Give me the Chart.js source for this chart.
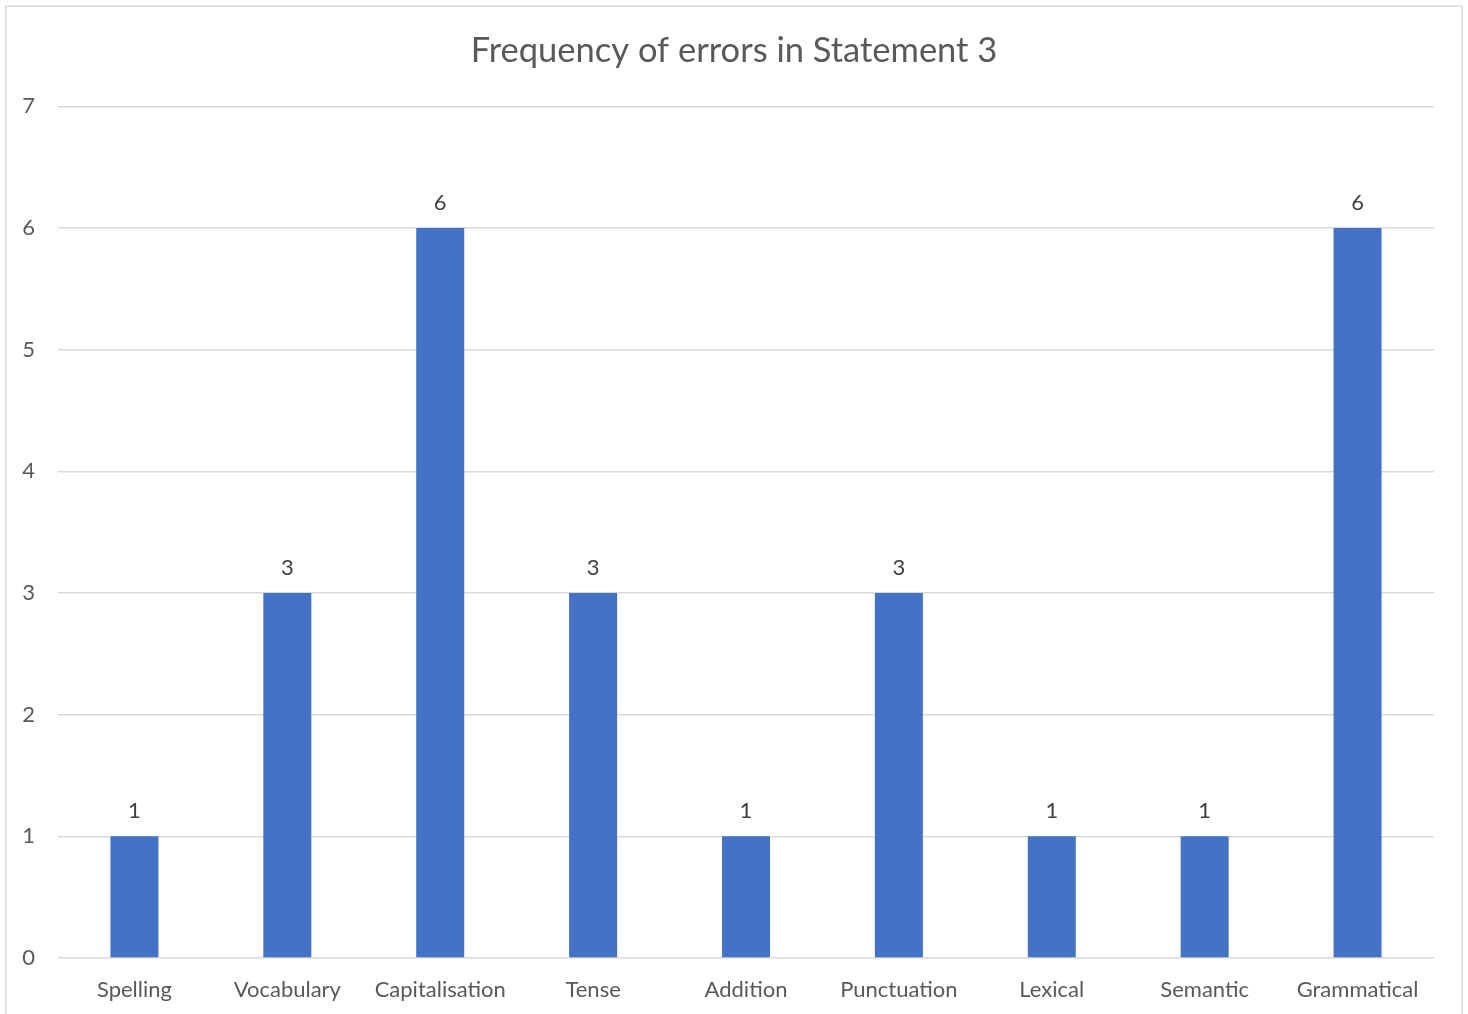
<!DOCTYPE html>
<html>
<head>
<meta charset="utf-8">
<script src="https://cdn.jsdelivr.net/npm/chart.js@4.4.1/dist/chart.umd.min.js"></script>
<style>
  html, body { margin: 0; padding: 0; background: #ffffff; }
  #wrap { width: 1468px; height: 1014px; }
</style>
</head>
<body>
<div id="wrap"><canvas id="chart" width="1468" height="1014"></canvas></div>
<script>
// Error categories and their counts
const categories = ['Spelling', 'Vocabulary', 'Capitalisation', 'Tense', 'Addition', 'Punctuation', 'Lexical', 'Semantic', 'Grammatical'];
const errorCounts = [1, 3, 6, 3, 1, 3, 1, 1, 6];
const yTicks = [0, 1, 2, 3, 4, 5, 6, 7];

const FONT = 'Lato, "Open Sans", sans-serif';

// Light frame around the whole chart
const framePlugin = {
  id: 'frame',
  beforeDraw(chart) {
    const ctx = chart.ctx;
    ctx.save();
    ctx.fillStyle = '#ffffff';
    ctx.fillRect(0, 0, chart.width, chart.height);
    ctx.strokeStyle = '#d9d9d9';
    ctx.lineWidth = 1.5;
    ctx.strokeRect(5.75, 6.25, 1456.5, 1030);
    ctx.restore();
  }
};

// Value labels above each bar
const valueLabels = {
  id: 'valueLabels',
  afterDatasetsDraw(chart) {
    const ctx = chart.ctx;
    const meta = chart.getDatasetMeta(0);
    ctx.save();
    ctx.font = '22px ' + FONT;
    ctx.fillStyle = '#404040';
    ctx.textAlign = 'center';
    ctx.textBaseline = 'middle';
    meta.data.forEach((bar, i) => {
      ctx.fillText(String(chart.data.datasets[0].data[i]), bar.x, bar.y - 25);
    });
    ctx.restore();
  }
};

new Chart(document.getElementById('chart'), {
  type: 'bar',
  data: {
    labels: categories,
    datasets: [{
      data: errorCounts,
      backgroundColor: '#4472c4',
      borderWidth: 0,
      barPercentage: 0.314,
      categoryPercentage: 1.0
    }]
  },
  options: {
    responsive: false,
    animation: false,
    devicePixelRatio: 1,
    layout: { padding: { left: 0, right: 0, top: 0, bottom: 0 } },
    plugins: {
      legend: { display: false },
      tooltip: { enabled: false },
      title: {
        display: true,
        text: 'Frequency of errors in Statement 3',
        color: '#595959',
        font: { family: FONT, size: 34.5, weight: 'normal' },
        padding: { top: 30, bottom: 35 }
      }
    },
    scales: {
      x: {
        grid: { display: false, drawTicks: false },
        border: { display: false },
        ticks: {
          color: '#595959',
          font: { family: FONT, size: 22 },
          padding: 19,
          maxRotation: 0,
          autoSkip: false
        },
        afterFit(scale) { scale.height = 56; }
      },
      y: {
        min: 0,
        max: 7,
        afterBuildTicks(scale) { scale.ticks = yTicks.map(v => ({ value: v })); },
        grid: { color: '#d9d9d9', lineWidth: 1.5, drawTicks: false },
        border: { display: false },
        ticks: {
          color: '#595959',
          font: { family: FONT, size: 22 },
          padding: 23
        },
        afterFit(scale) { scale.width = 58; }
      },
      // empty right-hand margin so the plot ends short of the frame
      yMargin: {
        position: 'right',
        min: 0,
        max: 7,
        grid: { display: false, drawTicks: false },
        border: { display: false },
        ticks: { display: false },
        afterFit(scale) { scale.width = 34; }
      }
    }
  },
  plugins: [framePlugin, valueLabels]
});
</script>
</body>
</html>
